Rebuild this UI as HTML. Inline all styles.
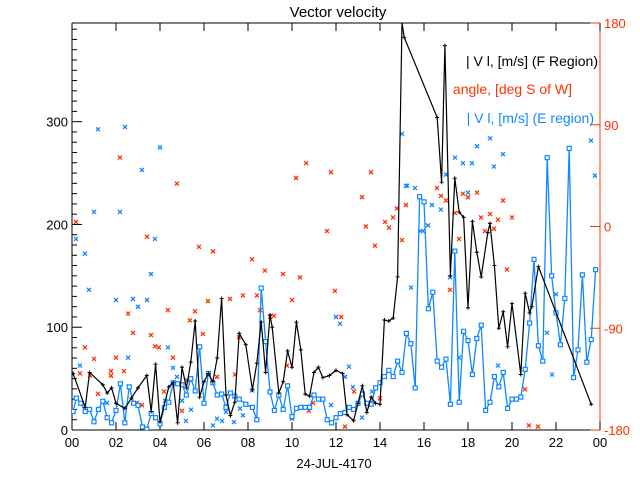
<!DOCTYPE html>
<html><head><meta charset="utf-8"><style>
html,body{margin:0;padding:0;background:#fff;width:640px;height:480px;overflow:hidden}
svg text{font-family:"Liberation Sans",sans-serif}
</style></head><body>
<svg id="chart" width="640" height="480" xmlns="http://www.w3.org/2000/svg">
<rect width="640" height="480" fill="#fff"/>
<text x="338" y="17" font-size="15" text-anchor="middle">Vector velocity</text>
<text x="334" y="468" font-size="13" text-anchor="middle">24-JUL-4170</text>
<g id="axes"></g>
<g id="marks"></g>
<g>
<text x="598" y="66" font-size="14" text-anchor="end" fill="#000">| V l, [m/s] (F Region)</text>
<text x="572" y="94" font-size="14" text-anchor="end" fill="#ff3300">angle, [deg S of W]</text>
<text x="594" y="123" font-size="14" text-anchor="end" fill="#1188ff">| V l, [m/s] (E region)</text>
</g>
</svg>
<script>
const fHours=[0.05,0.6,0.8,1.4,1.6,1.8,2.0,2.4,2.7,3.0,3.4,3.6,3.8,4.0,4.4,4.6,4.8,5.0,5.2,5.4,5.6,5.8,6.0,6.2,6.4,6.6,6.8,7.0,7.2,7.4,7.6,7.9,8.2,8.4,8.6,8.8,9.0,9.1,9.4,9.6,9.8,10.0,10.2,10.4,10.6,10.8,11.0,11.2,11.4,11.7,12.0,12.3,12.5,12.8,13.0,13.2,13.4,13.6,13.8,14.0,14.2,14.4,14.6,14.8,15.0,15.1,16.6,16.8,16.95,17.2,17.4,17.6,17.8,18.0,18.2,18.4,18.6,18.9,19.0,19.2,19.4,19.6,19.8,20.0,20.4,20.6,20.8,20.9,21.2,23.6];
const fValues=[55,22,56,44,36,41,26,21,31,41,53,18,64,8,42,46,7,61,41,66,106,32,47,55,47,70,128,34,14,27,94,83,39,65,105,56,112,100,36,47,77,61,105,78,35,33,56,61,51,53,58,55,15,9,26,43,17,32,26,25,107,106,109,149,396,382,304,241,374,150,245,212,207,119,203,173,149,192,201,160,99,115,81,123,54,133,114,120,159,25];
const eHours=[0.05,0.2,0.4,0.6,0.8,1.0,1.2,1.4,1.6,1.8,2.0,2.2,2.4,2.6,2.8,3.0,3.2,3.4,3.6,3.8,4.0,4.2,4.4,4.6,4.8,5.0,5.2,5.4,5.6,5.8,6.0,6.2,6.4,6.6,6.8,7.0,7.2,7.4,7.6,7.9,8.2,8.4,8.6,8.8,9.0,9.2,9.4,9.6,9.8,10.0,10.2,10.4,10.6,10.8,11.0,11.2,11.4,11.6,11.8,12.0,12.2,12.4,12.6,12.8,13.0,13.2,13.4,13.6,13.8,14.0,14.2,14.4,14.6,14.8,15.0,15.2,15.4,15.6,15.8,16.0,16.2,16.4,16.6,16.8,17.0,17.2,17.4,17.6,17.8,18.0,18.2,18.4,18.6,18.8,19.0,19.2,19.4,19.6,19.8,20.0,20.2,20.4,20.6,20.8,21.0,21.2,21.4,21.6,21.8,22.0,22.2,22.4,22.6,22.8,23.0,23.2,23.4,23.6,23.8];
const eValues=[18,31,26,18,20,8,20,28,12,7,19,45,7,42,26,24,3,1,16,12,6,22,27,46,45,44,34,50,38,81,26,55,46,34,35,22,36,33,30,25,22,10,138,86,37,19,34,20,43,13,21,22,22,22,34,30,30,10,7,12,16,17,22,20,26,35,26,25,41,46,52,58,52,67,56,94,84,41,227,222,118,134,67,61,69,25,174,27,96,87,54,89,102,19,27,52,42,56,21,30,30,32,59,104,166,82,67,265,150,114,83,128,274,51,78,151,66,88,156];
const angHoursO=[6.41,8.18,8.77,9.59,10.36,6.18,7.77,8.41,7.18,10.0,11.95,4.36,5.59,5.36,2.55,9.0,9.18,3.59,5.95,7.59,3.77,3.95,0.59,4.59,2.0,1.0,0.36,0.82,1.77,1.77,2.36,6.59,5.23,9.77,7.41,1.18,3.18,2.95,5.0,4.18,10.95,10.77,8.55,2.77,2.18,4.77,0.18,3.41,5.77,10.18,10.64,11.77,13.59,13.18,11.59,13.36,13.77,14.23,14.41,14.59,14.77,15.18,15.0,16.59,16.77,17.0,17.77,18.0,18.41,19.59,18.59,19.0,19.36,20.0,19.18,18.77,17.59,17.41,19.77,12.82,12.41,14.0,17.18,20.59,20.77,21.18,12.0,12.23];
const angValsO=[-22,-29,-39,-42,-45,-66,-61,-61,-64,-65,-57,-74,-75,-83,-77,-80,-79,-96,-95,-98,-106,-107,-107,-116,-116,-117,-130,-132,-128,-132,-128,-133,-136,-123,-131,-148,-158,-156,-163,-146,-156,-163,-74,-94,61,38,4,-9,-18,43,56,48,48,26,-4,0,-17,4,-1,8,16,19,-12,34,27,23,29,26,30,23,8,11,6,8,-2,-4,-11,12,-38,-146,-177,-152,-56,-144,-176,-177,-80,-80];
const angHoursE=[1.18,2.41,4.0,3.18,1.0,2.18,3.77,0.18,0.59,15.0,15.23,0.77,2.0,2.77,3.0,3.41,3.59,4.36,4.59,2.55,1.59,5.0,5.41,5.18,6.59,6.82,7.36,7.77,7.64,7.0,6.41,4.77,4.23,10.0,12.0,12.18,0.36,8.18,12.41,12.59,12.77,13.64,13.18,11.77,15.41,17.18,17.59,19.36,21.59,21.82,22.0,15.18,15.59,17.0,17.41,17.77,18.18,18.41,19.0,19.59,19.18,18.0,16.36,16.77,16.18,15.82,15.95,23.59,23.77];
const angValsE=[86,88,70,50,13,13,-11,-11,-24,82,36,-56,-65,-64,-71,-65,-42,-107,-125,-116,-156,-154,-162,-172,-170,-172,-173,-167,-161,-164,-176,-133,-154,-170,-80,-86,-123,-145,-133,-124,-142,-146,-169,-158,-54,-45,-116,-123,-94,-131,-60,36,34,46,61,56,56,71,78,64,53,30,19,15,1,-4,-4,76,45];
const xTicks=["00","02","04","06","08","10","12","14","16","18","20","22","00"];
const yTicks=[0,100,200,300];
const rTicks=[-180,-90,0,90,180];

const L=72,R=600,T=23,B=430,ORG="#ff3300",BLU="#1188ff";
const xS=h=>L+h*(R-L)/24;
const yS=v=>B-v*(B-T)/396;
const aS=a=>B-(a+180)*(B-T)/360;
const NS="http://www.w3.org/2000/svg";
function mk(tag,attrs,parent){const e=document.createElementNS(NS,tag);for(const k in attrs)e.setAttribute(k,attrs[k]);parent.appendChild(e);return e;}
const ax=document.getElementById('axes'),mg=document.getElementById('marks');
// frame
let e=mk('line',{x1:L,y1:T,x2:L,y2:B,stroke:'#000'},ax);


e=mk('line',{x1:L,y1:B,x2:R,y2:B,stroke:'#000'},ax);


e=mk('line',{x1:L,y1:T,x2:R,y2:T,stroke:'#000'},ax);


e=mk('line',{x1:R,y1:T,x2:R,y2:B,stroke:ORG},ax);


xTicks.forEach((t,i)=>{const x=xS(i*2);
 mk('line',{x1:x,y1:B,x2:x,y2:B-8,stroke:'#000'},ax);
 mk('line',{x1:x,y1:T,x2:x,y2:T+8,stroke:'#000'},ax);
 const tx=mk('text',{x:x,y:B+17,'font-size':13,'text-anchor':'middle'},ax);tx.textContent=t;
 
 
});
for(let v=0;v<=390;v+=10){const y=yS(v);mk('line',{x1:L,y1:y,x2:L+(v%100===0?10:5),y2:y,stroke:'#000'},ax);}
yTicks.forEach(v=>{const tx=mk('text',{x:L-4,y:yS(v)+5,'font-size':13,'text-anchor':'end'},ax);tx.textContent=v;
 
 });
rTicks.forEach(a=>{const y=aS(a);mk('line',{x1:R-10,y1:y,x2:R,y2:y,stroke:ORG},ax);
 const tx=mk('text',{x:R+4,y:y+5,'font-size':13,fill:ORG},ax);tx.textContent=a;
 
 });
// clip
const cp=mk('clipPath',{id:'pc'},mg);mk('rect',{x:L,y:T,width:R-L,height:B-T},cp);
const g=mk('g',{'clip-path':'url(#pc)'},mg);
function cross(x,y,c){mk('path',{d:`M${x-2},${y-2}L${x+2},${y+2}M${x+2},${y-2}L${x-2},${y+2}`,stroke:c,'stroke-width':1.3},g);}
angHoursO.forEach((h,i)=>cross(xS(h),aS(angValsO[i]),ORG));
angHoursE.forEach((h,i)=>cross(xS(h),aS(angValsE[i]),BLU));
let p=mk('polyline',{points:eHours.map((h,i)=>xS(h)+','+yS(eValues[i])).join(' '),fill:'none',stroke:BLU,'stroke-width':1.3},g);


eHours.forEach((h,i)=>mk('rect',{x:xS(h)-2,y:yS(eValues[i])-2,width:4,height:4,fill:'#fff',stroke:BLU,'stroke-width':1.2},g));
p=mk('polyline',{points:fHours.map((h,i)=>xS(h)+','+yS(fValues[i])).join(' '),fill:'none',stroke:'#000','stroke-width':1.2},g);


fHours.forEach((h,i)=>{const x=xS(h),y=yS(fValues[i]);mk('path',{d:`M${x-2},${y}L${x+2},${y}M${x},${y-2}L${x},${y+2}`,stroke:'#000'},g);});
</script>
</body></html>
